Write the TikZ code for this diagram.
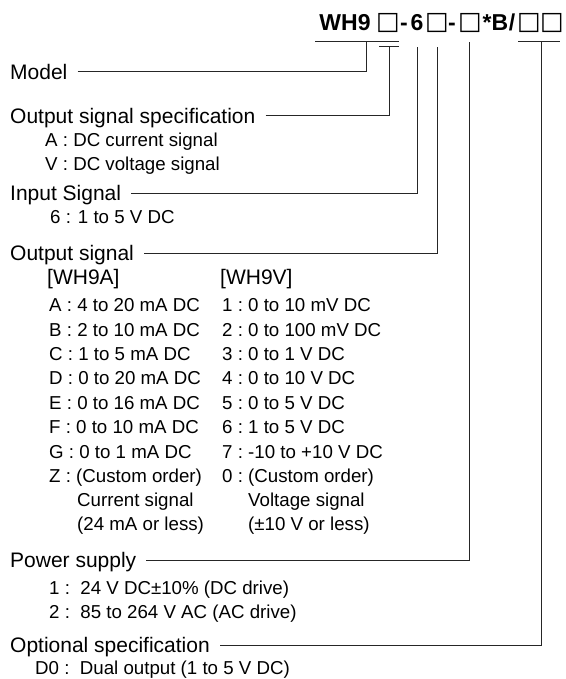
\documentclass[tikz,border=0pt]{standalone}
\usepackage{fontspec}
\setmainfont{Liberation Sans}
\newfontfamily\boxfont{DejaVu Sans}
\usetikzlibrary{positioning}

\begin{document}
\begin{tikzpicture}[x=1pt, y=-1pt]
	\tikzset{
		codechar/.style={anchor=base, inner sep=0pt, font=\fontsize{23}{27}\selectfont\bfseries},
		boxchar/.style={anchor=center, inner sep=0pt, font=\boxfont\fontsize{25}{25}\selectfont},
		head/.style={anchor=west, inner xsep=10pt, inner ysep=0pt, text height=15pt, text depth=0pt, font=\fontsize{21}{25}\selectfont},
		item/.style={anchor=west, inner sep=0pt, text height=13.4pt, text depth=0pt, font=\fontsize{18.7}{22}\selectfont},
		lead/.style={draw=black!85, line width=1pt}
	}
	\useasboundingbox (0,0) rectangle (565,679);
	
	% model code
	\foreach \c/\x [count=\i] in {WH9/345, -/404, 6/417, -/452, */487, B/500, {/}/512} {
		\node[codechar] (c\i) at (\x,31) {\c};
	}
	\foreach \x [count=\i] in {388, 437, 470, 529, 552} {
		\node[boxchar] (b\i) at (\x,23.5) {□};
	}
	
	% taps under the code
	\coordinate (mL) at (315,42); \coordinate (mR) at (399,42); \coordinate (mT) at (366,42);
	\coordinate (sL) at (379,47); \coordinate (sR) at (399,47); \coordinate (sT) at (389,47);
	\coordinate (iT) at (417,47);
	\coordinate (oT) at (437,47);
	\coordinate (pT) at (469,42);
	\coordinate (xL) at (518,42); \coordinate (xR) at (560,42); \coordinate (xT) at (541,42);
	
	% headings
	\node[head] (model) at (0,72) {Model};
	\node[head] (outspec) at (0,116) {Output signal specification};
	\node[head] (insig) at (0,193) {Input Signal};
	\node[head] (outsig) at (0,253) {Output signal};
	\node[head] (power) at (0,560) {Power supply};
	\node[head] (option) at (0,645) {Optional specification};
	
	% leaders
	\draw[lead] (mL) -- (mR);
	\draw[lead] (sL) -- (sR);
	\draw[lead] (xL) -- (xR);
	\draw[lead] (model.east) -| (mT);
	\draw[lead] (outspec.east) -| (sT);
	\draw[lead] (insig.east) -| (iT);
	\draw[lead] (outsig.east) -| (oT);
	\draw[lead] (power.east) -| (pT);
	\draw[lead] (option.east) -| (xT);
	
	% output signal specification
	\node[item] (specA) at (45,140) {A : DC current signal};
	\node[item] (specV) at (45,164) {V : DC voltage signal};
	
	% input signal
	\node[item] (in6) at (50,217) {6 : 1 to 5 V DC};
	
	% output signal table
	\node[head, inner xsep=0pt] (colA) at (47,277) {[WH9A]};
	\node[head, inner xsep=0pt] (colV) at (220,277) {[WH9V]};
	\foreach \ka/\ta/\kv/\tv [count=\i] in {A/4 to 20 mA DC/1/0 to 10 mV DC, B/2 to 10 mA DC/2/0 to 100 mV DC, C/1 to 5 mA DC/3/0 to 1 V DC, D/0 to 20 mA DC/4/0 to 10 V DC, E/0 to 16 mA DC/5/0 to 5 V DC, F/0 to 10 mA DC/6/1 to 5 V DC, G/0 to 1 mA DC/7/-10 to +10 V DC, Z/(Custom order)/0/(Custom order)} {
		\node[item] (ra\i) at (49,{305+24.4*(\i-1)}) {\ka\ :\ \ta};
		\node[item] (rv\i) at (222,{305+24.4*(\i-1)}) {\kv\ :\ \tv};
	}
	\node[item] (curA) at (77,500) {Current signal};
	\node[item] (curB) at (77,524) {(24 mA or less)};
	\node[item] (volA) at (248,500) {Voltage signal};
	\node[item] (volB) at (248,524) {(±10 V or less)};
	
	% power supply
	\node[item] (pw1) at (49,588) {1 :~~24 V DC±10\% (DC drive)};
	\node[item] (pw2) at (49,612) {2 :~~85 to 264 V AC (AC drive)};
	
	% optional specification
	\node[item] (d0) at (35,668) {D0 :~~Dual output (1 to 5 V DC)};
\end{tikzpicture}
\end{document}
